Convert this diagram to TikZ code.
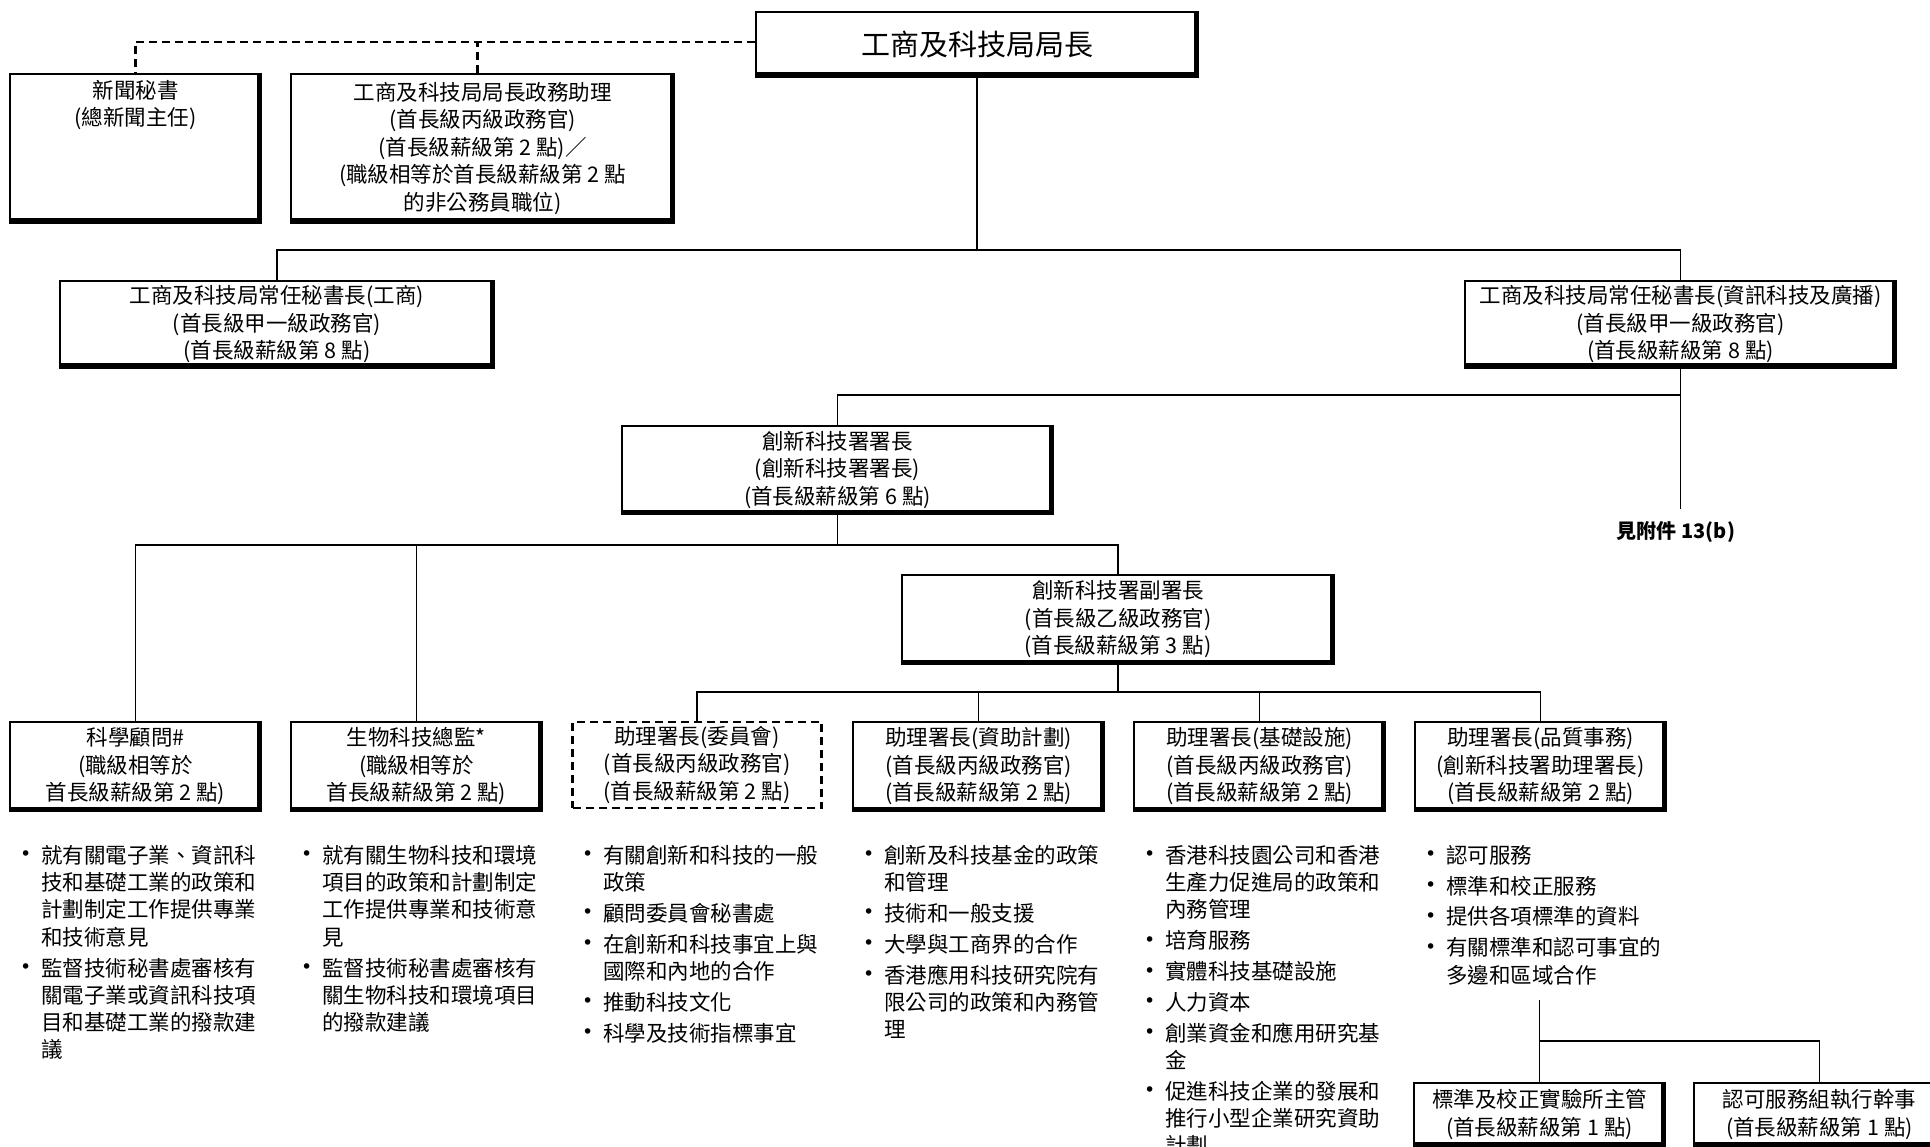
\documentclass[tikz,border=0pt]{standalone}
\usepackage{fontspec}
\setmainfont{Noto Sans CJK TC}
\newfontfamily\dejavu{DejaVu Sans}
\newcommand\boxfont{\fontsize{21.5}{27.5}\selectfont}
\newcommand\listfont{\fontsize{21.5}{27.3}\selectfont}
\newcommand\orgbul{\makebox[21pt][l]{\raisebox{2.5pt}{\dejavu\fontsize{19}{19}\selectfont •}}}
\newcommand\bcont{\hspace*{21pt}}
\begin{document}
\begin{tikzpicture}[x=1pt,y=1pt,
  sbox/.style={draw, line width=1.8pt, fill=white, inner sep=0pt, align=center, font=\boxfont,
    path picture={\fill[black] ([yshift=4.5pt]path picture bounding box.south west) rectangle (path picture bounding box.south east);
      \fill[black] ([xshift=-4.5pt]path picture bounding box.north east) rectangle (path picture bounding box.south east);}},
  dbox/.style={draw, line width=2.4pt, dash pattern=on 8pt off 5pt, fill=white, inner sep=0pt, align=center, font=\boxfont},
  rowdim/.style={minimum width=251pt, minimum height=89pt},
  conn/.style={line width=1.8pt},
  dconn/.style={line width=2.4pt, dash pattern=on 8pt off 5pt},
  blist/.style={inner sep=0pt, anchor=north west, align=left, font=\listfont}
]
\useasboundingbox (0,0) rectangle (1930,-1147);
\clip (0,0) rectangle (1930,-1147);
\fill[white] (0,0) rectangle (1930,-1147);

% ---- boxes ----
\node[sbox, minimum width=442pt, minimum height=65pt, font=\fontsize{29}{34}\selectfont] (min) at (977,-44.5) {工商及科技局局長};
\node[sbox, minimum width=251pt, minimum height=149pt] (press) at (135.5,-148.5) {新聞秘書\\(總新聞主任)\\\strut\\\strut\\\strut};
\node[sbox, minimum width=383pt, minimum height=149pt] (pas) at (482.5,-148.5) {工商及科技局局長政務助理\\(首長級丙級政務官)\\(首長級薪級第 2 點)／\\(職級相等於首長級薪級第 2 點\\的非公務員職位)};
\node[sbox, minimum width=434pt, minimum height=87pt] (psc) at (277,-324.5) {工商及科技局常任秘書長(工商)\\(首長級甲一級政務官)\\(首長級薪級第 8 點)};
\node[sbox, minimum width=431pt, minimum height=87pt] (psi) at (1680.5,-324.5) {工商及科技局常任秘書長(資訊科技及廣播)\\(首長級甲一級政務官)\\(首長級薪級第 8 點)};
\node[sbox, minimum width=431pt, minimum height=88pt] (dg) at (837.5,-470) {創新科技署署長\\(創新科技署署長)\\(首長級薪級第 6 點)};
\node[sbox, minimum width=432pt, minimum height=89pt] (dd) at (1118,-619.5) {創新科技署副署長\\(首長級乙級政務官)\\(首長級薪級第 3 點)};

\node[sbox, rowdim] (sa) at (135.5,-766.5) {科學顧問\#\\(職級相等於\\首長級薪級第 2 點)};
\node[sbox, rowdim] (bio) at (416.5,-766.5) {生物科技總監*\\(職級相等於\\首長級薪級第 2 點)};
\node[dbox, rowdim, minimum width=249pt, minimum height=86pt] (asc) at (697,-765) {助理署長(委員會)\\(首長級丙級政務官)\\(首長級薪級第 2 點)};
\node[sbox, rowdim] (asf) at (978.5,-766.5) {助理署長(資助計劃)\\(首長級丙級政務官)\\(首長級薪級第 2 點)};
\node[sbox, rowdim] (asi) at (1259.5,-766.5) {助理署長(基礎設施)\\(首長級丙級政務官)\\(首長級薪級第 2 點)};
\node[sbox, rowdim] (asq) at (1540.5,-766.5) {助理署長(品質事務)\\(創新科技署助理署長)\\(首長級薪級第 2 點)};

\node[sbox, minimum width=251pt, minimum height=63pt] (slab) at (1539.5,-1114.5) {標準及校正實驗所主管\\(首長級薪級第 1 點)};
\node[sbox, minimum width=251pt, minimum height=63pt] (ase) at (1819.5,-1114.5) {認可服務組執行幹事\\(首長級薪級第 1 點)};

\node[inner sep=0pt, font=\fontsize{20}{24}\selectfont\bfseries] (see) at (1676,-532) {見附件 13(b)};

% ---- bullet lists ----
\node[blist] (l1) at (20,-844) {\strut\orgbul 就有關電子業、資訊科\\ \bcont 技和基礎工業的政策和\\ \bcont 計劃制定工作提供專業\\ \bcont 和技術意見\\[3.5pt] \orgbul 監督技術秘書處審核有\\ \bcont 關電子業或資訊科技項\\ \bcont 目和基礎工業的撥款建\\ \bcont 議};
\node[blist] (l2) at (301,-844) {\strut\orgbul 就有關生物科技和環境\\ \bcont 項目的政策和計劃制定\\ \bcont 工作提供專業和技術意\\ \bcont 見\\[3.5pt] \orgbul 監督技術秘書處審核有\\ \bcont 關生物科技和環境項目\\ \bcont 的撥款建議};
\node[blist] (l3) at (582,-844) {\strut\orgbul 有關創新和科技的一般\\ \bcont 政策\\[3.5pt] \orgbul 顧問委員會秘書處\\[3.5pt] \orgbul 在創新和科技事宜上與\\ \bcont 國際和內地的合作\\[3.5pt] \orgbul 推動科技文化\\[3.5pt] \orgbul 科學及技術指標事宜};
\node[blist] (l4) at (863,-844) {\strut\orgbul 創新及科技基金的政策\\ \bcont 和管理\\[3.5pt] \orgbul 技術和一般支援\\[3.5pt] \orgbul 大學與工商界的合作\\[3.5pt] \orgbul 香港應用科技研究院有\\ \bcont 限公司的政策和內務管\\ \bcont 理};
\node[blist] (l5) at (1144,-844) {\strut\orgbul 香港科技園公司和香港\\ \bcont 生產力促進局的政策和\\ \bcont 內務管理\\[3.5pt] \orgbul 培育服務\\[3.5pt] \orgbul 實體科技基礎設施\\[3.5pt] \orgbul 人力資本\\[3.5pt] \orgbul 創業資金和應用研究基\\ \bcont 金\\[3.5pt] \orgbul 促進科技企業的發展和\\ \bcont 推行小型企業研究資助\\ \bcont 計劃};
\node[blist] (l6) at (1425,-844) {\strut\orgbul 認可服務\\[3.5pt] \orgbul 標準和校正服務\\[3.5pt] \orgbul 提供各項標準的資料\\[3.5pt] \orgbul 有關標準和認可事宜的\\ \bcont 多邊和區域合作};

% ---- connectors ----
\draw[dconn] ([yshift=2.5pt]min.west) -| (press.north);
\draw[dconn] ([xshift=-5pt]pas.north) -- ([xshift=-5pt,yshift=2.5pt]pas.north |- min.west);

\coordinate (b1) at (977,-250);
\draw[conn] (min.south) -- (b1);
\draw[conn] (psc.north) |- (b1) -| (psi.north);

\coordinate (b2) at (1680.5,-395);
\coordinate (seeend) at (1680.5,-509);
\draw[conn] (psi.south) -- (seeend);
\draw[conn] (dg.north) |- (b2);

\coordinate (b3) at (837.5,-545);
\draw[conn] (dg.south) -- (b3);
\draw[conn] (sa.north) |- (b3) -| (dd.north);
\draw[conn] (bio.north) -- (bio.north |- b3);

\coordinate (b4) at (1118,-692);
\draw[conn] (dd.south) -- (b4);
\draw[conn] (asc.north) |- (b4) -| (asq.north);
\draw[conn] (asf.north) -- (asf.north |- b4);
\draw[conn] (asi.north) -- (asi.north |- b4);

\coordinate (qtop) at (1539.5,-1000);
\coordinate (qb) at (1539.5,-1041);
\draw[conn] (qtop) -- (slab.north);
\draw[conn] (qb) -| (ase.north);
\end{tikzpicture}
\end{document}
